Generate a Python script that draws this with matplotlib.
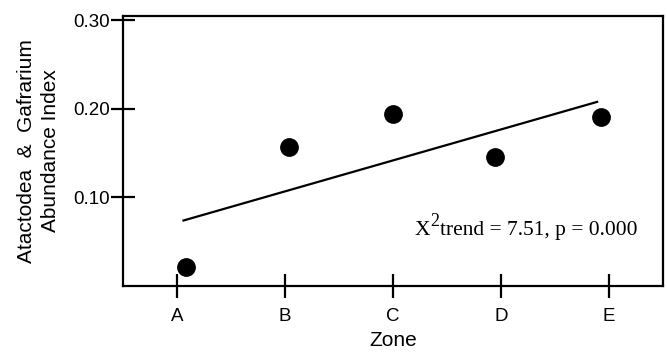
import matplotlib.pyplot as plt
import numpy as np

plt.rcParams['font.family'] = ['Liberation Sans', 'DejaVu Sans']

# data
zones = ['A', 'B', 'C', 'D', 'E']
zone_pos = [0, 1, 2, 3, 4]
point_x = [0.08, 1.04, 2.0, 2.94, 3.93]
abundance = [0.021, 0.157, 0.194, 0.146, 0.191]
trend_x = [0.06, 3.89]
trend_y = [0.074, 0.208]
yticks = [0.10, 0.20, 0.30]
ytick_labels = ['0.10', '0.20', '0.30']

fig = plt.figure(figsize=(6.67, 3.52), dpi=100)
ax = fig.add_axes([0.1844, 0.1875, 0.8096, 0.767])

ax.plot(trend_x, trend_y, color='black', lw=1.6)
ax.plot(point_x, abundance, 'o', color='black', ms=12.5, ls='none')

ax.set_xlim(-0.5, 4.5)
ax.set_ylim(0.0, 0.305)
ax.set_xticks(zone_pos)
ax.set_xticklabels(zones)
ax.set_yticks(yticks)
ax.set_yticklabels(ytick_labels)

for s in ax.spines.values():
    s.set_linewidth(1.6)
ax.tick_params(axis='both', direction='inout', length=17, width=1.6, labelsize=13.5)
ax.tick_params(axis='x', pad=7)
ax.tick_params(axis='y', pad=1)

ax.set_xlabel('Zone', fontsize=15, labelpad=5)
ax.set_ylabel('Atactodea  &  Gafrarium\nAbundance Index', fontsize=15, linespacing=1.3)
ax.yaxis.set_label_coords(-0.117, 0.5)

# chi-square trend annotation, serif, with raised 2
serif = 'Liberation Serif'
t1 = ax.text(2.2, 0.058, 'X', family=serif, fontsize=15.5)
t2 = ax.annotate('2', xy=(1, 0), xycoords=t1, xytext=(0.3, 7),
                 textcoords='offset points', va='bottom', family=serif, fontsize=13)
ax.annotate('trend = 7.51, p = 0.000', xy=(1, 0), xycoords=(t2, t1),
            va='bottom', family=serif, fontsize=15.5)

plt.savefig('out.png', dpi=100)
